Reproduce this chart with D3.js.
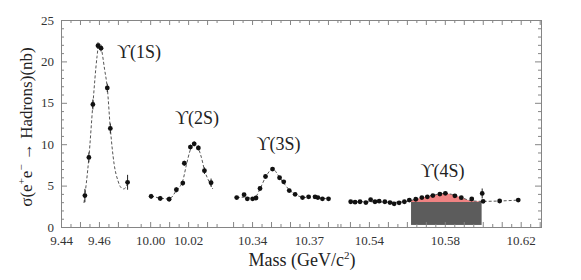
<!DOCTYPE html>
<html>
<head>
<meta charset="utf-8">
<script src="https://cdn.jsdelivr.net/npm/d3@7"></script>
<style>
  body { margin: 0; background: #fff; }
  svg text { font-family: "Liberation Serif", "DejaVu Serif", serif; fill: #222; }
  .frame { fill: none; stroke: #858585; stroke-width: 1; }
  .axis .domain { display: none; }
  .axis .tick line { stroke: #858585; }
  .axis text { font-size: 13px; font-family: "Liberation Serif", serif; fill: #333; }
  .fit { fill: none; stroke: #555; stroke-width: 1; stroke-dasharray: 3,2; }
  .err { stroke: #222; stroke-width: 1; }
  .dot { fill: #111; }
</style>
</head>
<body>
<svg width="581" height="280"></svg>
<script>
// broken mass axis: each piece is drawn at the same GeV -> px rate
const axisSegments = [[9.44, 9.4785], [9.9915, 10.0395], [10.3258, 10.3850], [10.5234, 10.6307]];
const massLabels   = [9.44, 9.46, 10.00, 10.02, 10.34, 10.37, 10.54, 10.58, 10.62];
const sigmaLabels  = [0, 5, 10, 15, 20, 25];

// measured points (mass GeV, sigma nb, error nb)
const mass1S  = [9.4526, 9.4547, 9.4568, 9.4595, 9.4611, 9.4644, 9.4660, 9.4751];
const sigma1S = [3.8, 8.4, 14.8, 21.9, 21.6, 16.8, 11.9, 5.4];
const err1S   = [0.8, 0.6, 0.6, 0.4, 0.4, 0.5, 0.6, 0.9];

const mass2S  = [10.0005, 10.0053, 10.0100, 10.0138, 10.0172, 10.0180, 10.0212, 10.0232, 10.0254, 10.0286, 10.0321];
const sigma2S = [3.7, 3.45, 3.36, 4.5, 5.3, 7.7, 9.65, 10.05, 9.55, 6.8, 5.35];
const err2S   = [0.3, 0.3, 0.3, 0.3, 0.3, 0.3, 0.3, 0.3, 0.3, 0.4, 0.5];

const mass3S  = [10.3319, 10.3358, 10.3375, 10.3403, 10.3421, 10.3442, 10.3471, 10.3508, 10.3545,
                 10.3567, 10.3596, 10.3627, 10.3666, 10.3698, 10.3732, 10.3747, 10.3771, 10.3803];
const sigma3S = [3.55, 3.9, 3.4, 3.4, 3.5, 4.65, 6.1, 7.0, 5.95, 5.45, 4.4, 3.95, 3.55, 3.65, 3.65, 3.55, 3.4, 3.4];

const mass4S  = [10.5304, 10.5327, 10.5353, 10.5384, 10.5409, 10.5432, 10.5454, 10.5484, 10.5511,
                 10.5533, 10.5559, 10.5587, 10.5613, 10.5647, 10.5679, 10.5708, 10.5737, 10.5774,
                 10.5803, 10.5853, 10.5887, 10.5942, 10.5997, 10.6002, 10.6089, 10.6187];
const sigma4S = [3.05, 3.0, 3.05, 2.95, 3.3, 3.05, 3.12, 3.05, 2.95, 2.8, 2.92, 3.05, 3.25,
                 3.35, 3.55, 3.65, 3.8, 3.98, 4.07, 3.76, 3.54, 3.38, 4.05, 3.1, 3.14, 3.25];
const err4S   = mass4S.map((m, i) => i === 22 ? 0.6 : 0.15);

// dashed fit curves
const fitMass1S  = [9.4521, 9.4547, 9.4568, 9.4590, 9.4600, 9.4611, 9.4630, 9.4644, 9.4660, 9.4680, 9.4700, 9.4715, 9.4730, 9.4745, 9.4751];
const fitSigma1S = [2.9, 8.4, 14.8, 20.6, 22.2, 21.7, 19.0, 16.8, 11.9, 7.6, 5.6, 4.8, 4.6, 4.9, 5.4];
const fitMass2S  = [10.0005, 10.0050, 10.0100, 10.0138, 10.0172, 10.0190, 10.0210, 10.0230, 10.0250, 10.0270, 10.0286, 10.0310, 10.0330];
const fitSigma2S = [3.75, 3.5, 3.4, 4.4, 5.6, 7.4, 9.2, 10.1, 9.7, 8.4, 6.9, 5.5, 4.6];
const fitMass3S  = [10.3319, 10.3358, 10.3403, 10.3421, 10.3442, 10.3471, 10.3508, 10.3545, 10.3567,
                    10.3596, 10.3627, 10.3666, 10.3698, 10.3747, 10.3803];
const fitSigma3S = [3.55, 3.6, 3.5, 3.7, 4.6, 6.0, 7.0, 6.0, 5.3, 4.5, 3.95, 3.6, 3.55, 3.5, 3.4];
const fitMass4S  = [10.5304, 10.5400, 10.5500, 10.5560, 10.5600, 10.5630, 10.5660, 10.5690, 10.5720,
                    10.5750, 10.5780, 10.5805, 10.5835, 10.5865, 10.5900, 10.5945, 10.6000, 10.6100, 10.6187];
const fitSigma4S = [3.05, 3.05, 3.0, 3.0, 3.1, 3.25, 3.45, 3.62, 3.75, 3.9, 4.02, 4.05, 3.95, 3.75, 3.45, 3.15, 3.1, 3.15, 3.25];

// continuum box under the 4S
const continuumMass  = [10.5622, 10.5994];
const continuumSigma = [0.25, 3.02];

const resonanceNames = ["\u03D2(1S)", "\u03D2(2S)", "\u03D2(3S)", "\u03D2(4S)"];
const nameMass       = [9.4695, 10.0131, 10.3423, 10.5672];
const nameSigma      = [20.4, 12.45, 9.3, 6.05];


let svg     = d3.select("svg"),
    pLeft   = 61,
    pRight  = 541,
    pTop    = 20,
    pBottom = 227,
    x       = createMassScale(pLeft, pRight),
    y       = d3.scaleLinear().domain([0, 25]).range([pBottom, pTop]);

drawContinuum();
drawFits();
drawPoints();
drawFrame();
drawTitles();


function createMassScale(x0, x1) {
  let total = d3.sum(axisSegments, s => s[1] - s[0]),
      rate  = (x1 - x0) / total,
      dom   = [],
      rng   = [],
      pos   = x0;
  axisSegments.forEach(s => {
    let w = (s[1] - s[0]) * rate;
    dom.push(s[0], s[1]);
    rng.push(pos, pos + w);
    pos += w;
  });
  return d3.scaleLinear().domain(dom).range(rng);
}

function zip(a, b, c) {
  return a.map((d, i) => [d, b[i], c ? c[i] : 0]);
}

function drawContinuum() {
  let fit  = zip(fitMass4S, fitSigma4S),
      area = d3.area()
               .x(d => x(d[0]))
               .y0(y(continuumSigma[1]))
               .y1(d => y(d[1]))
               .curve(d3.curveMonotoneX);

  svg.append("clipPath")
      .attr("id", "contClip")
    .append("rect")
      .attr("x", x(continuumMass[0]))
      .attr("y", pTop)
      .attr("width", x(continuumMass[1]) - x(continuumMass[0]))
      .attr("height", y(continuumSigma[1]) - pTop);

  svg.append("path")
    .datum(fit)
    .attr("clip-path", "url(#contClip)")
    .attr("fill", "#f08383")
    .attr("d", area);

  svg.append("rect")
    .attr("x", x(continuumMass[0]))
    .attr("y", y(continuumSigma[1]))
    .attr("width", x(continuumMass[1]) - x(continuumMass[0]))
    .attr("height", y(continuumSigma[0]) - y(continuumSigma[1]))
    .attr("fill", "#5c5c5c");
}

function drawFits() {
  let line = d3.line()
               .x(d => x(d[0]))
               .y(d => y(d[1]))
               .curve(d3.curveMonotoneX),
      fits = [zip(fitMass1S, fitSigma1S), zip(fitMass2S, fitSigma2S),
              zip(fitMass3S, fitSigma3S), zip(fitMass4S, fitSigma4S)];

  svg.append("g").selectAll(".fit")
    .data(fits)
    .enter().append("path")
      .attr("class", "fit")
      .attr("d", line);
}

function drawPoints() {
  let err3S = mass3S.map(() => 0.2),
      pts   = [].concat(zip(mass1S, sigma1S, err1S), zip(mass2S, sigma2S, err2S),
                        zip(mass3S, sigma3S, err3S), zip(mass4S, sigma4S, err4S)),
      g     = svg.append("g");

  g.selectAll(".err")
    .data(pts)
    .enter().append("line")
      .attr("class", "err")
      .attr("x1", d => x(d[0]))
      .attr("x2", d => x(d[0]))
      .attr("y1", d => y(d[1] - d[2]))
      .attr("y2", d => y(d[1] + d[2]));

  g.selectAll(".dot")
    .data(pts)
    .enter().append("circle")
      .attr("class", "dot")
      .attr("cx", d => x(d[0]))
      .attr("cy", d => y(d[1]))
      .attr("r", 2.4);
}

function drawFrame() {
  let minor = [],
      major = [];
  axisSegments.forEach(s => {
    d3.range(Math.ceil(s[0] * 200), Math.floor(s[1] * 200) + 1).forEach(k => {
      (k % 2 === 0 ? major : minor).push(k / 200);
    });
  });
  let yMinor = d3.range(0, 26).filter(v => v % 5 !== 0);

  svg.append("rect")
    .attr("class", "frame")
    .attr("x", pLeft + 0.5)
    .attr("y", pTop + 0.5)
    .attr("width", pRight - pLeft)
    .attr("height", pBottom - pTop);

  // bottom
  svg.append("g").attr("class", "axis").attr("transform", `translate(0,${pBottom})`)
    .call(d3.axisBottom(x).tickValues(minor).tickSize(-3).tickFormat(""));
  svg.append("g").attr("class", "axis").attr("transform", `translate(0,${pBottom})`)
    .call(d3.axisBottom(x).tickValues(major).tickSize(-5).tickFormat(""));
  svg.append("g").attr("class", "axis").attr("transform", `translate(0,${pBottom})`)
    .call(d3.axisBottom(x).tickValues(massLabels).tickSize(0).tickPadding(9).tickFormat(d3.format(".2f")));

  // top
  svg.append("g").attr("class", "axis").attr("transform", `translate(0,${pTop})`)
    .call(d3.axisTop(x).tickValues(minor).tickSize(-3).tickFormat(""));
  svg.append("g").attr("class", "axis").attr("transform", `translate(0,${pTop})`)
    .call(d3.axisTop(x).tickValues(major).tickSize(-5).tickFormat(""));

  // left
  svg.append("g").attr("class", "axis").attr("transform", `translate(${pLeft},0)`)
    .call(d3.axisLeft(y).tickValues(yMinor).tickSize(-3).tickFormat(""));
  svg.append("g").attr("class", "axis").attr("transform", `translate(${pLeft},0)`)
    .call(d3.axisLeft(y).tickValues(sigmaLabels).tickSize(-6).tickPadding(7).tickFormat(d3.format("d")));

  // right
  svg.append("g").attr("class", "axis").attr("transform", `translate(${pRight},0)`)
    .call(d3.axisRight(y).tickValues(yMinor).tickSize(-3).tickFormat(""));
  svg.append("g").attr("class", "axis").attr("transform", `translate(${pRight},0)`)
    .call(d3.axisRight(y).tickValues(sigmaLabels).tickSize(-6).tickFormat(""));
}

function drawTitles() {
  svg.append("g").selectAll(".name")
    .data(resonanceNames)
    .enter().append("text")
      .attr("class", "name")
      .attr("x", (d, i) => x(nameMass[i]))
      .attr("y", (d, i) => y(nameSigma[i]))
      .style("font-size", "18px")
      .text(d => d);

  let xt = svg.append("text")
    .attr("x", 302)
    .attr("y", 266)
    .attr("text-anchor", "middle")
    .style("font-size", "18px");
  xt.append("tspan").text("Mass (GeV/c");
  xt.append("tspan").attr("dy", -7).style("font-size", "11px").text("2");
  xt.append("tspan").attr("dy", 7).text(")");

  let yt = svg.append("text")
    .attr("transform", "translate(32,127) rotate(-90)")
    .attr("text-anchor", "middle")
    .style("font-size", "17px");
  yt.append("tspan").text("\u03C3(e");
  yt.append("tspan").attr("dy", -7).style("font-size", "11px").text("+");
  yt.append("tspan").attr("dy", 7).text("e");
  yt.append("tspan").attr("dy", -7).style("font-size", "11px").text("\u2212");
  yt.append("tspan").attr("dy", 7).text(" \u2192 Hadrons)(nb)");
}
</script>
</body>
</html>
